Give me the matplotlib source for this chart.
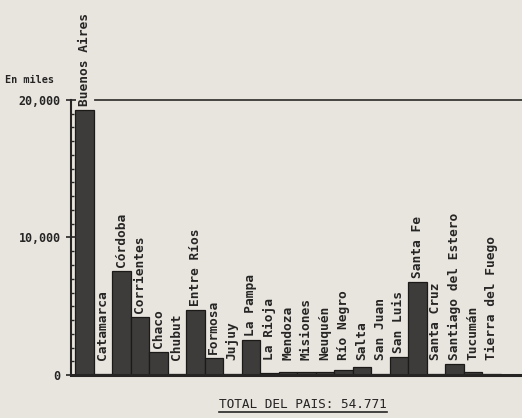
import matplotlib
matplotlib.use("Agg")
import matplotlib.pyplot as plt
from matplotlib.ticker import MultipleLocator
from matplotlib.lines import Line2D

# existencias por provincia, en miles
provincias = ["Buenos Aires", "Catamarca", "Córdoba", "Corrientes", "Chaco",
              "Chubut", "Entre Ríos", "Formosa", "Jujuy", "La Pampa",
              "La Rioja", "Mendoza", "Misiones", "Neuquén", "Río Negro",
              "Salta", "San Juan", "San Luis", "Santa Fe", "Santa Cruz",
              "Santiago del Estero", "Tucumán", "Tierra del Fuego"]
valores = [19300, 100, 7600, 4200, 1700,
           50, 4700, 1250, 100, 2550,
           150, 250, 250, 250, 360,
           580, 50, 1300, 6750, 100,
           800, 250, 80]
yticks = [0, 10000, 20000]
ytick_labels = ["0", "10,000", "20,000"]
total = "TOTAL DEL PAIS: 54.771"

bg = "#e8e5df"
ink = "#262524"
mono = "DejaVu Sans Mono"

W, H = 522, 418
fig = plt.figure(figsize=(W / 100, H / 100), dpi=100, facecolor=bg)
ax = fig.add_axes([71 / W, 43 / H, 451 / W, 275 / H])
ax.set_facecolor(bg)

x = list(range(len(provincias)))
ax.bar(x, valores, width=1.0, color="#3d3c3a", edgecolor="#1b1a19", linewidth=0.9)

pitch = 18.5
left = -0.5 - 4 / pitch
ax.set_xlim(left, left + 451 / pitch)
ax.set_ylim(0, 20000)

# etiquetas verticales sobre cada barra
for i, (p, v) in enumerate(zip(provincias, valores)):
    y = max(v + 290, 1090)
    ax.text(i, y, p, rotation=90, ha="center", va="bottom",
            family=mono, fontsize=9.3, fontweight="bold", color=ink, clip_on=False)

ax.set_xticks([])
ax.set_yticks(yticks)
ax.set_yticklabels(ytick_labels, family=mono, fontsize=8.4, fontweight="bold", color=ink)
ax.yaxis.set_minor_locator(MultipleLocator(1000))
ax.tick_params(axis="y", which="major", direction="inout", length=7, width=1.2, pad=4, colors=ink)
ax.tick_params(axis="y", which="minor", direction="in", length=2, width=1, colors=ink)

for s in ["top", "right"]:
    ax.spines[s].set_visible(False)
ax.spines["left"].set_linewidth(1.5)
ax.spines["bottom"].set_linewidth(2.2)
ax.spines["left"].set_color(ink)
ax.spines["bottom"].set_color(ink)

ax.axhline(20000, xmin=24 / 451, xmax=1, color="#3a3835", lw=1.3, clip_on=False)

fig.text(5 / W, 1 - 80 / H, "En miles", family=mono, fontsize=7.3,
         fontweight="bold", color=ink, va="center", ha="left")

t = fig.text(303 / W, 1 - 404 / H, total, family=mono, fontsize=9.2,
             color=ink, ha="center", va="center")
fig.canvas.draw()
bb = t.get_window_extent().transformed(fig.transFigure.inverted())
fig.add_artist(Line2D([bb.x0, bb.x1], [bb.y0 - 0.004, bb.y0 - 0.004],
                      transform=fig.transFigure, color=ink, lw=1.2))

fig.savefig("out.png", dpi=100, facecolor=bg)
